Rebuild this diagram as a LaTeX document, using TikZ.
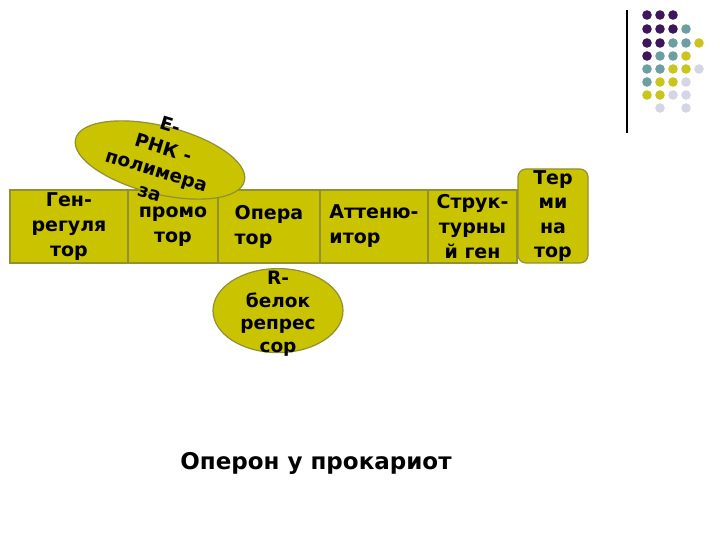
\documentclass[tikz,border=0pt]{standalone}
\usepackage{fontspec}
\setmainfont{DejaVu Sans}
\usetikzlibrary{positioning,shapes.geometric}
\definecolor{gelb}{RGB}{201,195,0}
\definecolor{rim}{RGB}{145,144,50}
\definecolor{pp}{RGB}{62,22,92}
\definecolor{tl}{RGB}{108,158,162}
\definecolor{yl}{RGB}{204,196,30}
\definecolor{lv}{RGB}{212,214,230}

\begin{document}
\begin{tikzpicture}[
   x=1pt, y=1pt,
   gene/.style={draw=rim, line width=1.2pt, fill=gelb, outer sep=0pt,
                inner sep=1pt, minimum height=73pt, align=center,
                font=\bfseries\fontsize{19}{25}\selectfont},
   oval/.style={ellipse, draw=rim, line width=1.2pt, fill=gelb, inner sep=0pt},
   ovaltxt/.style={align=center, inner sep=0pt,
                font=\bfseries\fontsize{18.5}{23.5}\selectfont}]
  \useasboundingbox (0,0) rectangle (720,-540);
  \node[gene, minimum width=118pt, anchor=north west] (reg) at (10,-190) {Ген-\\регуля\\тор};
  \node[gene, minimum width=90pt, right=0pt of reg]  (prom) {промо\\тор};
  \node[gene, minimum width=102pt, right=0pt of prom, align=left] (oper) {Опера\\тор};
  \node[gene, minimum width=108pt, right=0pt of oper, align=left] (att) {Аттеню-\\итор};
  \node[gene, minimum width=89pt, right=0pt of att]  (str) {Струк-\\турны\\й ген};
  \node[gene, rounded corners=8pt, minimum width=70pt, minimum height=94pt,
        font=\bfseries\fontsize{19}{24.5}\selectfont,
        anchor=south west] (term) at ([xshift=1pt]str.south east) {Тер\\ми\\на\\тор};
  \node[oval, minimum width=174pt, minimum height=68pt, rotate=-14] (pol) at (160,-160) {};
  \node[ovaltxt, rotate=-17] (poltxt) at ([yshift=1pt]pol.center) {Е-\\РНК -\\полимера\\за};
  \node[oval, minimum width=130pt, minimum height=84pt, below=5pt of oper, xshift=9pt] (rep) {};
  \node[ovaltxt, font=\bfseries\fontsize{18.5}{22.5}\selectfont] (reptxt) at ([yshift=-3pt]rep.center)
       {R-\\белок\\репрес\\сор};
  \node[font=\bfseries\fontsize{23}{27}\selectfont] (title) at (316,-463) {Оперон у прокариот};
  \draw[line width=1.4pt] (627,-10) -- (627,-133);
  \foreach \y/\row in {15/{1/pp,2/pp,3/pp}, 29/{1/pp,2/pp,3/pp,4/tl},
      43/{1/pp,2/pp,3/tl,4/tl,5/yl}, 56/{1/pp,2/tl,3/tl,4/yl},
      69/{1/tl,2/tl,3/yl,4/yl,5/lv}, 82/{1/tl,2/yl,3/yl,4/lv},
      95/{1/yl,2/yl,3/lv,4/lv}, 108/{2/lv,4/lv}}
    \foreach \i/\c in \row {\fill[\c] ({634+13*\i},-\y) circle (4.8pt);}
\end{tikzpicture}
\end{document}
